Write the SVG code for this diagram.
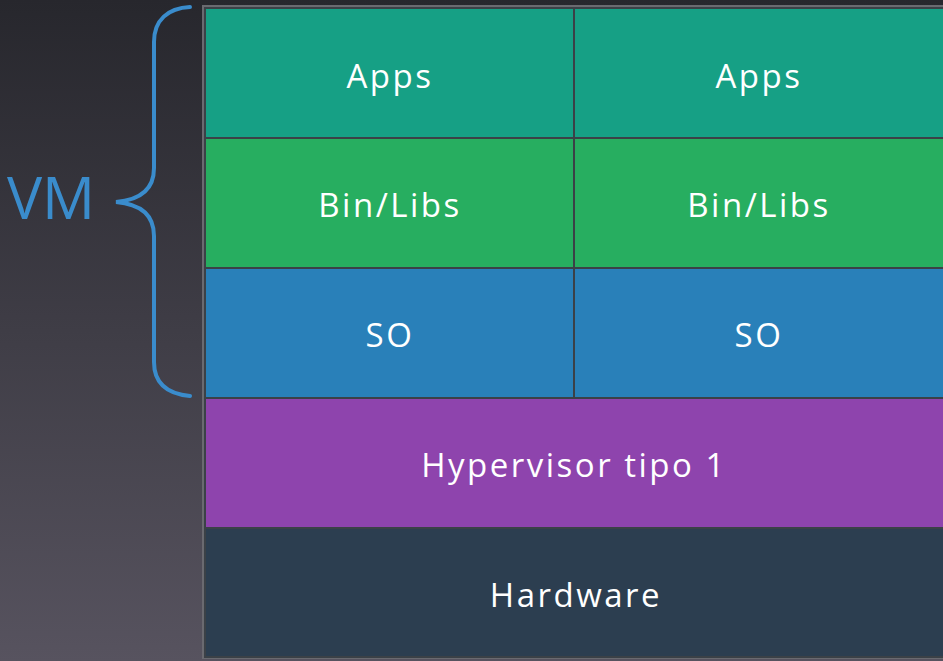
<svg xmlns="http://www.w3.org/2000/svg" width="943" height="661" viewBox="0 0 943 661">
<defs>
<linearGradient id="bg" x1="0" y1="0" x2="0" y2="1">
<stop offset="0" stop-color="#27272d"/>
<stop offset="1" stop-color="#57535f"/>
</linearGradient>
<style>
.cell{stroke:#3b4147;stroke-width:2}
.lbl{font-family:"Open Sans","Noto Sans","Liberation Sans",sans-serif;font-size:33px;letter-spacing:2.5px;fill:#ffffff;text-anchor:middle}
.brace{fill:none;stroke:#3a8ccc;stroke-width:4;stroke-linecap:round}
</style>
</defs>
<rect width="943" height="661" fill="url(#bg)"/>
<rect x="203" y="6" width="750" height="652" fill="#4a4b52" stroke="#6a6a70" stroke-width="2"/>
<g id="apps1"><rect class="cell" x="205" y="8" width="369" height="130" fill="#16a085"/><text class="lbl" x="390" y="88">Apps</text></g>
<g id="apps2"><rect class="cell" x="574" y="8" width="380" height="130" fill="#16a085"/><text class="lbl" x="759" y="88">Apps</text></g>
<g id="bins1"><rect class="cell" x="205" y="138" width="369" height="130" fill="#27ae60"/><text class="lbl" x="390" y="217">Bin/Libs</text></g>
<g id="bins2"><rect class="cell" x="574" y="138" width="380" height="130" fill="#27ae60"/><text class="lbl" x="759" y="217">Bin/Libs</text></g>
<g id="so1"><rect class="cell" x="205" y="268" width="369" height="130" fill="#2980b9"/><text class="lbl" x="390" y="347">SO</text></g>
<g id="so2"><rect class="cell" x="574" y="268" width="380" height="130" fill="#2980b9"/><text class="lbl" x="759" y="347">SO</text></g>
<g id="hyper"><rect class="cell" x="205" y="398" width="749" height="130" fill="#8e44ad"/><text class="lbl" x="574" y="477">Hypervisor tipo 1</text></g>
<g id="hardware"><rect class="cell" x="205" y="528" width="749" height="129" fill="#2c3e50"/><text class="lbl" x="576" y="607">Hardware</text></g>
<g id="vm">
<path class="brace" d="M190,7 C168,8 154,20 154,42 L154,168 C154,190 140,200 116,202 C140,204 154,214 154,236 L154,362 C154,384 168,394 190,396"/>
<text x="51" y="219" font-family="Open Sans,Noto Sans,Liberation Sans,sans-serif" font-size="59" fill="#3a8ccc" text-anchor="middle">VM</text>
</g>
</svg>
